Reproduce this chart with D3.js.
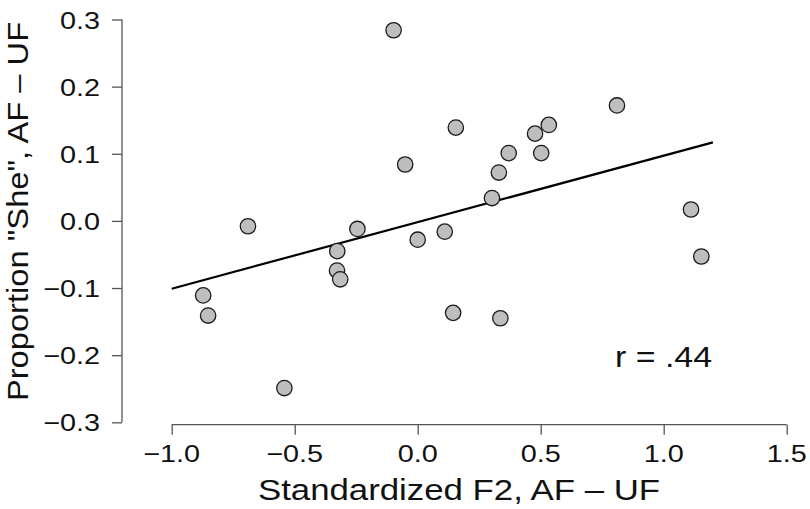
<!DOCTYPE html>
<html>
<head>
<meta charset="utf-8">
<script src="https://cdn.jsdelivr.net/npm/d3@7/dist/d3.min.js"></script>
<style>
  html, body { margin: 0; padding: 0; background: #fff; }
  text { font-family: "Liberation Sans", Arial, Helvetica, sans-serif; fill: #111; }
</style>
</head>
<body>
<svg id="chart" width="810" height="509"></svg>
<script>
// ---- data ----
const xVals = [-0.098, 0.155, -0.051, 0.33, 0.302, -0.69, -0.245, 0.0, 0.11, -0.327, -0.328, -0.315,
               -0.872, -0.852, 0.144, -0.542, 0.336, 0.37, 0.477, 0.533, 0.502, 0.81, 1.111, 1.153];
const yVals = [0.284, 0.139, 0.084, 0.072, 0.034, -0.008, -0.012, -0.028, -0.016, -0.045, -0.074, -0.087,
               -0.111, -0.141, -0.137, -0.249, -0.145, 0.101, 0.130, 0.143, 0.101, 0.172, 0.017, -0.053];
const fitX = [-1.0, 1.2];
const fitY = [-0.101, 0.117];
const xTicks = [-1.0, -0.5, 0.0, 0.5, 1.0, 1.5];
const yTicks = [0.3, 0.2, 0.1, 0.0, -0.1, -0.2, -0.3];
const xTitle = "Standardized F2, AF \u2013 UF";
const yTitle = "Proportion \"She\", AF \u2013 UF";
const annotation = "r = .44";

// ---- layout ----
const svg = d3.select("#chart");
const x = d3.scaleLinear().domain([-1.0, 1.5]).range([171.7, 786.7]);
const y = d3.scaleLinear().domain([-0.3, 0.3]).range([422.3, 19.5]);
const SX = 1.2; // horizontal text stretch
const fmt = v => (v < 0 ? "\u2212" : "") + Math.abs(v).toFixed(1);

// axes (R base style)
const xAxis = d3.axisBottom(x).tickValues(xTicks).tickSize(10).tickFormat("");
const gx = svg.append("g").attr("transform", "translate(0,424.7)").call(xAxis);
const yAxis = d3.axisLeft(y).tickValues(yTicks).tickSize(10).tickFormat("");
const gy = svg.append("g").attr("transform", "translate(122,0)").call(yAxis);
[gx, gy].forEach(g => {
  g.select(".domain").attr("stroke", "#555").attr("stroke-width", 1.3);
  g.selectAll(".tick line").attr("stroke", "#555").attr("stroke-width", 1.3);
});
gx.select(".domain").attr("d", `M${x(xTicks[0])},0H${x(xTicks[xTicks.length-1])}`);
gy.select(".domain").attr("d", `M0,${y(yTicks[0])}V${y(yTicks[yTicks.length-1])}`);

// tick labels
svg.append("g").selectAll("text").data(xTicks).join("text")
  .attr("transform", d => `translate(${x(d)},461.5) scale(${SX},1)`)
  .attr("text-anchor", "middle").attr("font-size", 24)
  .text(fmt);
svg.append("g").selectAll("text").data(yTicks).join("text")
  .attr("transform", d => `translate(100,${y(d) + 9})  scale(${SX},1)`)
  .attr("text-anchor", "end").attr("font-size", 24)
  .text(fmt);

// titles
svg.append("text")
  .attr("transform", `translate(459,500) scale(${SX},1)`)
  .attr("text-anchor", "middle").attr("font-size", 29)
  .text(xTitle);
svg.append("text")
  .attr("transform", `translate(27.5,211.5) rotate(-90) scale(1.09,1.0)`)
  .attr("text-anchor", "middle").attr("font-size", 30)
  .text(yTitle);

// regression line
svg.append("line")
  .attr("x1", x(fitX[0])).attr("y1", y(fitY[0]))
  .attr("x2", x(fitX[1])).attr("y2", y(fitY[1]))
  .attr("stroke", "#000").attr("stroke-width", 2.2);

// points
svg.append("g").selectAll("circle").data(xVals.map((v, i) => [v, yVals[i]])).join("circle")
  .attr("cx", d => x(d[0])).attr("cy", d => y(d[1]))
  .attr("r", 7.7)
  .attr("fill", "#bebebe").attr("stroke", "#1a1a1a").attr("stroke-width", 1.3);

// annotation
svg.append("text")
  .attr("transform", `translate(615,367.3) scale(1.17,1)`)
  .attr("font-size", 29)
  .text(annotation);
</script>
</body>
</html>
